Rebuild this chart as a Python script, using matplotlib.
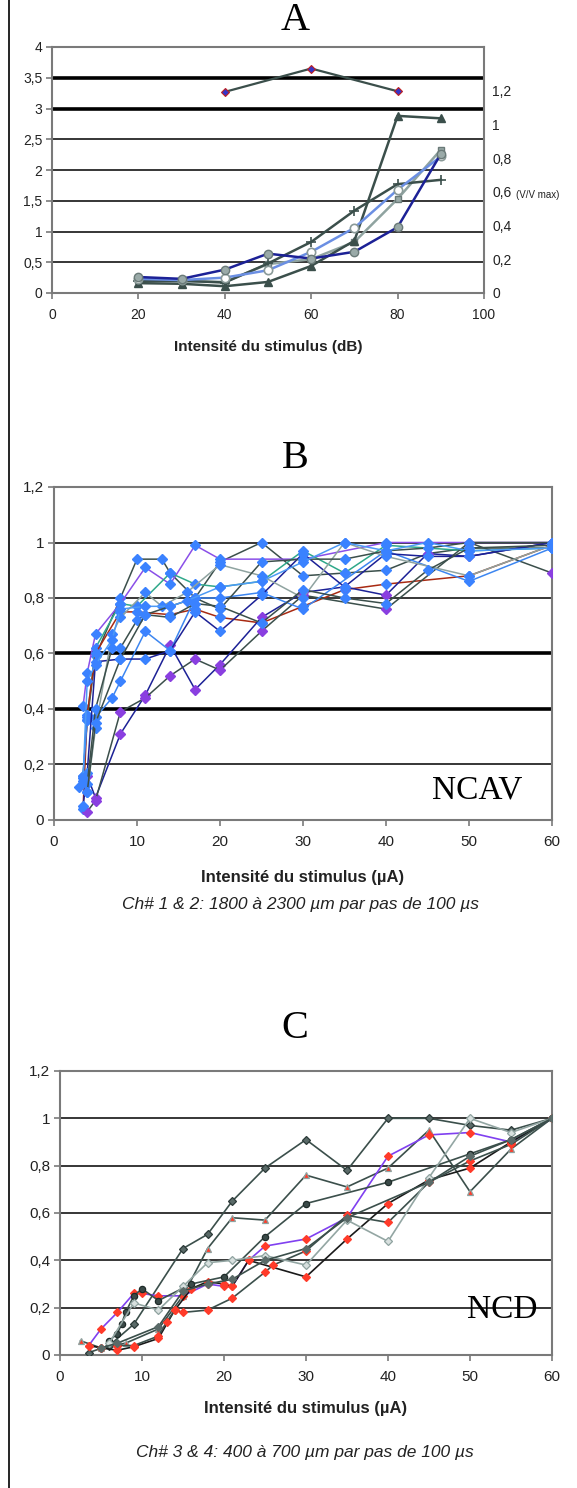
import matplotlib
matplotlib.use("Agg")
import matplotlib.pyplot as plt
from matplotlib.ticker import FuncFormatter

plt.rcParams.update({"font.family": ["Liberation Sans", "DejaVu Sans"], "font.size": 9})

W, H = 577, 1488
SLATE, NAVY, CORN, LGRAY = "#3b4f4b", "#1c2196", "#6b8fe3", "#8fa3a0"
BLUE_M, PURP_M, RED_M = "#3a82ff", "#8a3fe0", "#ff3b2a"
AX_GRAY = "#7a7a7a"

# ---- panel A data (left axis units) ----
a_top_x = [40, 60, 80]
a_top_y = [3.27, 3.65, 3.28]
a_x = [20, 30, 40, 50, 60, 70, 80, 90]
a_navy = [0.26, 0.23, 0.38, 0.64, 0.56, 0.67, 1.07, 2.26]
a_corn = [0.23, 0.21, 0.25, 0.37, 0.67, 1.06, 1.68, 2.22]
a_gray = [0.21, 0.19, 0.18, 0.47, 0.55, 0.83, 1.53, 2.33]
a_plus = [0.19, 0.2, 0.17, 0.48, 0.83, 1.34, 1.77, 1.84]
a_tri = [0.16, 0.15, 0.11, 0.18, 0.44, 0.85, 2.88, 2.84]
a_right_ticks = [0, 0.2, 0.4, 0.6, 0.8, 1, 1.2]

# ---- panel B data ----
b_series = [
    # (line colour, marker colour, x, y)
    (SLATE, BLUE_M, [3.5, 4, 5, 8, 10, 13, 14, 17, 20, 25, 30, 35, 40, 45, 50, 60],
     [0.16, 0.36, 0.59, 0.80, 0.94, 0.94, 0.89, 0.80, 0.93, 1.0, 0.88, 0.89, 0.90, 0.96, 0.98, 0.98]),
    ("#8a4fe8", BLUE_M, [3.5, 4, 5, 8, 11, 14, 17, 20, 30, 40, 60],
     [0.41, 0.53, 0.67, 0.78, 0.91, 0.85, 0.99, 0.94, 0.94, 1.0, 1.0]),
    ("#2fa88a", BLUE_M, [4, 5, 8, 10, 14, 17, 20, 25, 30, 35, 40, 50, 60],
     [0.37, 0.62, 0.78, 0.77, 0.89, 0.85, 0.84, 0.86, 0.97, 0.89, 0.99, 0.97, 0.98]),
    ("#a82a12", BLUE_M, [3.5, 4, 5, 8, 10, 14, 17, 20, 25, 30, 35, 40, 50, 60],
     [0.04, 0.38, 0.60, 0.75, 0.75, 0.74, 0.76, 0.73, 0.71, 0.77, 0.83, 0.85, 0.88, 0.99]),
    (NAVY, PURP_M, [4, 5, 8, 11, 14, 17, 20, 25, 30, 35, 40, 45, 50, 60],
     [0.16, 0.08, 0.31, 0.45, 0.63, 0.47, 0.56, 0.73, 0.82, 0.84, 0.81, 0.96, 0.95, 1.0]),
    (SLATE, PURP_M, [4, 5, 8, 11, 14, 17, 20, 25, 30, 40, 50, 60],
     [0.03, 0.07, 0.39, 0.44, 0.52, 0.58, 0.54, 0.68, 0.81, 0.76, 1.0, 0.89]),
    ("#3d86f0", BLUE_M, [3, 3.5, 4, 5, 7, 8, 11, 14, 17, 20, 25, 30, 40, 50, 60],
     [0.12, 0.16, 0.36, 0.37, 0.44, 0.50, 0.68, 0.61, 0.80, 0.80, 0.82, 0.76, 0.97, 0.86, 0.98]),
    (NAVY, BLUE_M, [3.5, 4, 5, 8, 11, 14, 17, 20, 25, 30, 35, 40, 45, 50, 60],
     [0.05, 0.17, 0.57, 0.58, 0.58, 0.61, 0.75, 0.68, 0.81, 0.96, 0.84, 0.96, 0.95, 0.95, 1.0]),
    (LGRAY, BLUE_M, [3.5, 4, 5, 7, 8, 11, 13, 16, 20, 25, 30, 35, 40, 50, 60],
     [0.14, 0.10, 0.33, 0.67, 0.73, 0.82, 0.77, 0.82, 0.92, 0.88, 0.80, 1.0, 0.95, 0.88, 0.99]),
    (SLATE, BLUE_M, [4, 5, 7, 8, 10, 11, 14, 17, 20, 25, 30, 35, 40, 45, 50, 60],
     [0.13, 0.40, 0.62, 0.62, 0.72, 0.74, 0.77, 0.80, 0.76, 0.93, 0.94, 0.94, 0.97, 0.98, 1.0, 1.0]),
    ("#4c9af5", BLUE_M, [3.5, 4, 5, 7, 8, 11, 14, 16, 20, 25, 30, 35, 40, 45, 50, 60],
     [0.15, 0.50, 0.56, 0.65, 0.76, 0.77, 0.77, 0.79, 0.84, 0.86, 0.93, 1.0, 0.97, 1.0, 0.97, 0.98]),
    (SLATE, BLUE_M, [4, 5, 8, 11, 14, 17, 20, 25, 30, 35, 40, 45, 50, 60],
     [0.10, 0.35, 0.58, 0.74, 0.73, 0.78, 0.77, 0.71, 0.83, 0.80, 0.78, 0.90, 0.98, 0.99]),
]

# ---- panel C data ----
c_series = [
    # (line colour, marker, marker face, marker edge, x, y)
    (SLATE, "D", "#5a6a68", "#2c3a38", [3.5, 6, 9, 15, 18, 21, 25, 30, 35, 40, 45, 50, 55, 60],
     [0.01, 0.04, 0.13, 0.45, 0.51, 0.65, 0.79, 0.91, 0.78, 1.0, 1.0, 0.97, 0.95, 1.0]),
    (SLATE, "^", RED_M, "#8fa3a0", [2.5, 5, 8, 12, 15, 18, 21, 25, 30, 35, 40, 45, 50, 55, 60],
     [0.06, 0.03, 0.05, 0.11, 0.25, 0.45, 0.58, 0.57, 0.76, 0.71, 0.79, 0.95, 0.69, 0.87, 1.0]),
    ("#8040f0", "D", RED_M, RED_M, [3.5, 5, 7, 9, 10, 12, 15, 18, 20, 21, 23, 25, 30, 35, 40, 45, 50, 55, 60],
     [0.04, 0.11, 0.18, 0.26, 0.26, 0.25, 0.25, 0.30, 0.29, 0.29, 0.40, 0.46, 0.49, 0.58, 0.84, 0.93, 0.94, 0.90, 1.0]),
    ("#1a1a1a", "D", RED_M, RED_M, [3.5, 5, 7, 9, 12, 14, 16, 18, 20, 21, 23, 30, 35, 40, 45, 50, 55, 60],
     [0.04, 0.03, 0.02, 0.035, 0.07, 0.19, 0.28, 0.31, 0.30, 0.29, 0.40, 0.33, 0.49, 0.64, 0.74, 0.79, 0.90, 1.0]),
    (SLATE, "D", RED_M, RED_M, [5, 7, 9, 12, 13, 14, 15, 18, 21, 25, 26, 30, 35, 40, 45, 50, 55, 60],
     [0.03, 0.04, 0.04, 0.08, 0.14, 0.19, 0.18, 0.19, 0.24, 0.35, 0.38, 0.44, 0.59, 0.56, 0.73, 0.82, 0.89, 1.0]),
    (SLATE, "o", "#3a4a48", "#1f2b29", [6, 7, 7.5, 8, 9, 10, 12, 16, 20, 25, 30, 40, 50, 55, 60],
     [0.06, 0.09, 0.13, 0.18, 0.25, 0.28, 0.23, 0.30, 0.33, 0.50, 0.64, 0.73, 0.85, 0.91, 1.0]),
    ("#93a6a3", "D", "#d8e0df", "#8fa3a0", [6, 9, 12, 15, 18, 21, 25, 30, 35, 40, 45, 50, 55, 60],
     [0.05, 0.22, 0.19, 0.29, 0.39, 0.40, 0.42, 0.38, 0.57, 0.48, 0.75, 1.0, 0.94, 1.0]),
    (SLATE, "D", "#5a6a68", "#5a6a68", [5, 7, 12, 15, 18, 21, 25, 30, 35, 45, 50, 55, 60],
     [0.03, 0.05, 0.12, 0.27, 0.30, 0.32, 0.40, 0.45, 0.58, 0.73, 0.84, 0.91, 1.0]),
]

comma = FuncFormatter(lambda v, p: f"{v:g}".replace(".", ","))


def box(l, t, r, b):
    return fig.add_axes([l / W, 1 - b / H, (r - l) / W, (b - t) / H])


def style(ax, xmax, xstep, ymax, ystep, thick=(), size=9):
    ax.set_xlim(0, xmax)
    ax.set_ylim(0, ymax)
    ax.set_xticks([i * xstep for i in range(int(round(xmax / xstep)) + 1)])
    ax.set_yticks([round(i * ystep, 2) for i in range(int(round(ymax / ystep)) + 1)])
    ax.xaxis.set_major_formatter(comma)
    ax.yaxis.set_major_formatter(comma)
    ax.tick_params(direction="out", length=4, width=1.2, color=AX_GRAY, labelcolor="#222",
                   labelsize=size, pad=3)
    ax.tick_params(axis="x", pad=7)
    for s in ax.spines.values():
        s.set_color(AX_GRAY)
        s.set_linewidth(1.5)
    for v in ax.get_yticks()[1:-1]:
        ax.axhline(v, color="black", lw=2.6 if round(v, 2) in thick else 1.1, zorder=1)


fig = plt.figure(figsize=(W / 100, H / 100), dpi=100)
fig.add_artist(plt.Line2D([9 / W, 9 / W], [0, 1], color="black", lw=1.2))

# ---------------- A ----------------
axA = box(52, 47, 484, 293)
style(axA, 100, 20, 4, 0.5, thick=(3.0, 3.5), size=10)
axA.plot(a_top_x, a_top_y, color=SLATE, lw=1.6, marker="D", ms=4.5, mfc="#3535c8", mec="#c02020", mew=0.8, zorder=4)
axA.plot(a_x, a_gray, color=LGRAY, lw=1.8, marker="s", ms=5, mfc="#9aaaa8", mec="#6a7a78", zorder=3)
axA.plot(a_x, a_plus, color=SLATE, lw=1.8, marker="+", ms=7, mec=SLATE, mew=1.2, zorder=3)
axA.plot(a_x, a_tri, color=SLATE, lw=1.8, marker="^", ms=6, mfc=SLATE, mec=SLATE, zorder=3)
axA.plot(a_x, a_corn, color=CORN, lw=1.8, marker="o", ms=6, mfc="white", mec="#8a9a98", mew=1.2, zorder=3)
axA.plot(a_x, a_navy, color=NAVY, lw=1.8, marker="o", ms=6, mfc="#9aaaa8", mec="#6a7a78", zorder=3)
axA.set_xlabel("Intensité du stimulus (dB)", fontsize=11, fontweight="bold", color="#222", labelpad=13)
axR = axA.twinx()
axR.set_ylim(0, 4 / 2.74)
axR.set_yticks(a_right_ticks)
axR.yaxis.set_major_formatter(comma)
axR.tick_params(length=0, labelsize=10, labelcolor="#222", pad=6)
for s in axR.spines.values():
    s.set_visible(False)
fig.text(516 / W, 1 - 195 / H, "(V/V max)", fontsize=7, color="#222", va="center")
fig.text(295 / W, 1 - 20 / H, "A", family="Liberation Serif", fontsize=29, ha="center", va="center")

# ---------------- B ----------------
axB = box(54, 487, 552, 820)
style(axB, 60, 10, 1.2, 0.2, thick=(0.4, 0.6), size=11)
for lc, mc, xs, ys in b_series:
    axB.plot(xs, ys, color=lc, lw=1.1, marker="D", ms=5, mfc=mc, mec=mc, zorder=3)
axB.set_xlabel("Intensité du stimulus (µA)", fontsize=12, fontweight="bold", color="#222", labelpad=15)
axB.text(0.94, 0.09, "NCAV", transform=axB.transAxes, family="Liberation Serif", fontsize=24,
         ha="right", va="center")
fig.text(295 / W, 1 - 458 / H, "B", family="Liberation Serif", fontsize=29, ha="center", va="center")
fig.text(301 / W, 1 - 905 / H, "Ch# 1 & 2: 1800 à 2300 µm par pas de 100 µs", fontsize=12.5,
         style="italic", color="#222", ha="center", va="center")

# ---------------- C ----------------
axC = box(60, 1071, 552, 1355)
style(axC, 60, 10, 1.2, 0.2, size=11)
for lc, mk, mf, me, xs, ys in c_series:
    axC.plot(xs, ys, color=lc, lw=1.2, marker=mk, ms=4.5, mfc=mf, mec=me, mew=0.9, zorder=3)
axC.set_xlabel("Intensité du stimulus (µA)", fontsize=12, fontweight="bold", color="#222", labelpad=12)
axC.text(0.97, 0.16, "NCD", transform=axC.transAxes, family="Liberation Serif", fontsize=24,
         ha="right", va="center")
fig.text(295 / W, 1 - 1028 / H, "C", family="Liberation Serif", fontsize=29, ha="center", va="center")
fig.text(305 / W, 1 - 1452 / H, "Ch# 3 & 4: 400 à 700 µm par pas de 100 µs", fontsize=12.5,
         style="italic", color="#222", ha="center", va="center")

fig.savefig("out.png", dpi=100)
